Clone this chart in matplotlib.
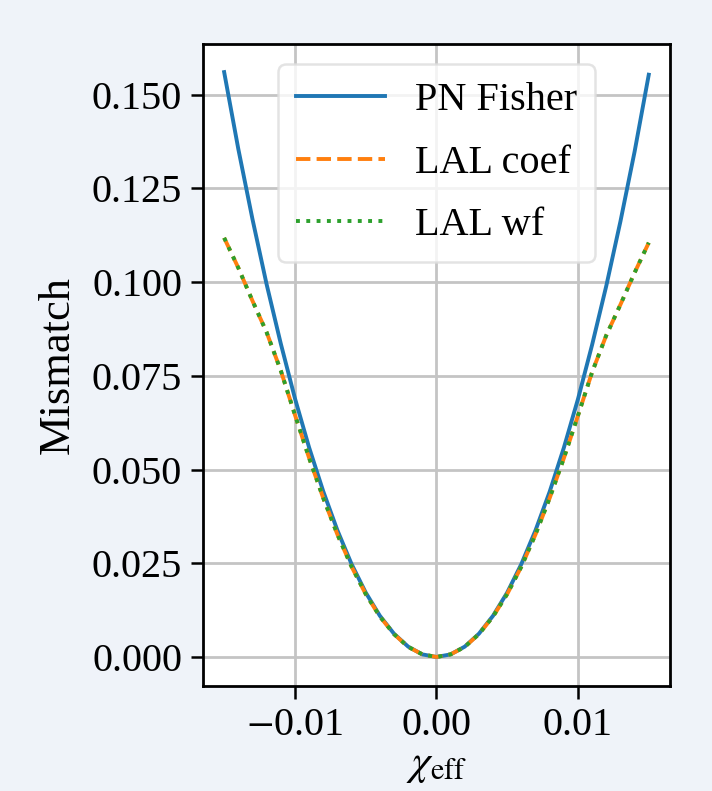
import matplotlib
matplotlib.use("Agg")
import matplotlib.pyplot as plt
import numpy as np

chi_eff = [-0.015, -0.014, -0.013, -0.012, -0.011, -0.010, -0.009, -0.008, -0.007, -0.006,
           -0.005, -0.004, -0.003, -0.002, -0.001, 0.0, 0.001, 0.002, 0.003, 0.004,
           0.005, 0.006, 0.007, 0.008, 0.009, 0.010, 0.011, 0.012, 0.013, 0.014, 0.015]
pn_fisher = [0.1560, 0.1355, 0.1168, 0.0994, 0.0836, 0.0690, 0.0559, 0.0442, 0.0338, 0.0248,
             0.0172, 0.0110, 0.0062, 0.00276, 0.00069, 0.0, 0.00069, 0.00276, 0.0062, 0.0110,
             0.0172, 0.0248, 0.0338, 0.0441, 0.0558, 0.0688, 0.0833, 0.0990, 0.1162, 0.1348, 0.1553]
lal_coef = [0.1118, 0.1038, 0.0950, 0.0866, 0.0764, 0.0646, 0.0531, 0.0424, 0.0327, 0.0241,
            0.0168, 0.0108, 0.0061, 0.0027, 0.0007, 0.0, 0.0007, 0.0027, 0.0061, 0.0108,
            0.0168, 0.0241, 0.0327, 0.0424, 0.0530, 0.0644, 0.0760, 0.0858, 0.0940, 0.1025, 0.1105]
lal_wf = list(lal_coef)

plt.rcParams['font.family'] = ['Liberation Serif', 'DejaVu Serif']
plt.rcParams['mathtext.fontset'] = 'stix'

bg = '#eff3f9'
fig = plt.figure(figsize=(7.12, 7.91), dpi=100, facecolor=bg)
ax = fig.add_axes([0.285, 0.1327, 0.656, 0.8117])
ax.set_facecolor('white')

ax.plot(chi_eff, pn_fisher, color='#1f77b4', lw=2.8, ls='-', label='PN Fisher')
ax.plot(chi_eff, lal_coef, color='#ff7f0e', lw=2.8, ls='--', label='LAL coef')
ax.plot(chi_eff, lal_wf, color='#2ca02c', lw=2.8, ls=':', label='LAL wf')

ax.set_xlim(-0.0165, 0.0165)
ax.set_ylim(-0.00775, 0.1635)
ax.set_xticks([-0.01, 0.0, 0.01])
ax.set_xticklabels(['$-$0.01', '0.00', '0.01'])
ax.set_yticks([0.0, 0.025, 0.05, 0.075, 0.1, 0.125, 0.15])
ax.set_yticklabels(['0.000', '0.025', '0.050', '0.075', '0.100', '0.125', '0.150'])
ax.grid(True, color='#c4c4c4', lw=2.0)
ax.set_axisbelow(True)
ax.tick_params(labelsize=29, length=9, width=1.8, color='black', pad=6)
for s in ax.spines.values():
    s.set_linewidth(2.0)
    s.set_color('black')

ax.set_xlabel(r'$\chi_{\rm eff}$', fontsize=31, labelpad=2)
ax.set_ylabel('Mismatch', fontsize=32, labelpad=10)

leg = ax.legend(loc='upper center', fontsize=29, framealpha=0.8, fancybox=True,
                borderpad=0.45, labelspacing=0.62, handlelength=2.2, handletextpad=0.75)
leg.get_frame().set_edgecolor('#dddddd')
leg.get_frame().set_linewidth(1.8)

fig.savefig('out.png', dpi=100, facecolor=bg)
